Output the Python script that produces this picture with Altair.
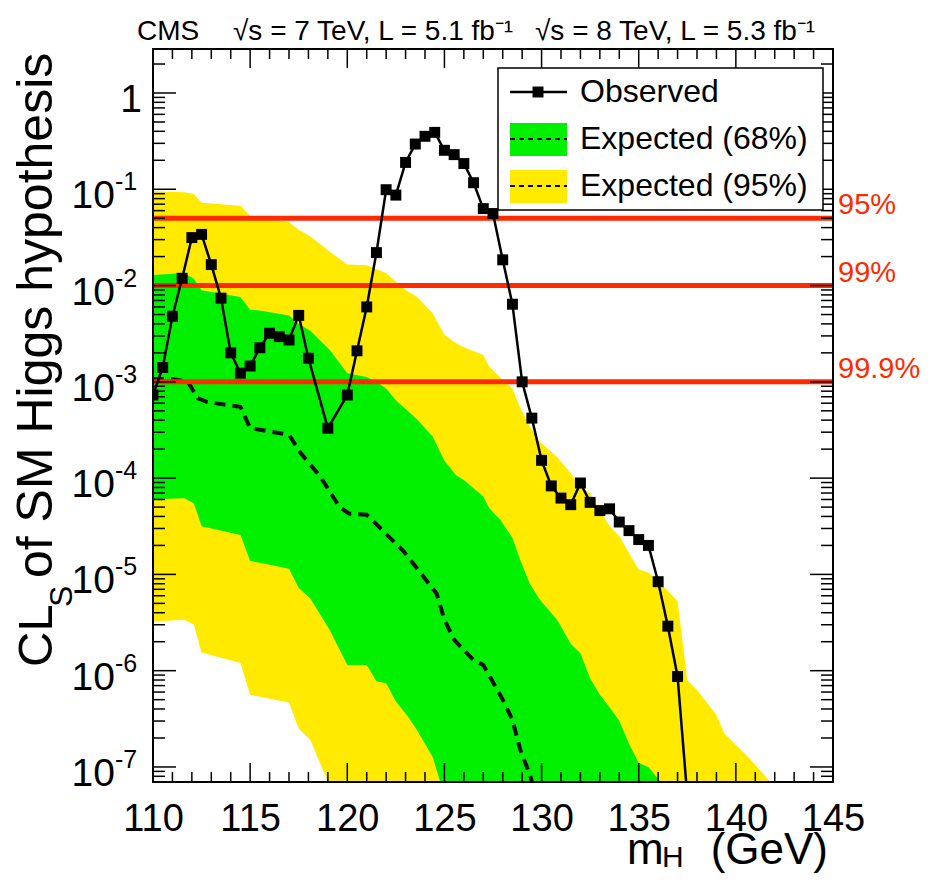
import altair as alt
import pandas as pd

FONT = "Liberation Sans"
YELLOW = "#ffea00"
GREEN = "#00f000"
RED = "#ff2a00"

# ---------------- data ----------------
obs_mh = [110.0, 110.5, 111.0, 111.5, 112.0, 112.5, 113.0, 113.5, 114.0, 114.5,
          115.0, 115.5, 116.0, 116.5, 117.0, 117.5, 118.0, 119.0, 120.0, 120.5,
          121.0, 121.5, 122.0, 122.5, 123.0, 123.5, 124.0, 124.5, 125.0, 125.5,
          126.0, 126.5, 127.0, 127.5, 128.0, 128.5, 129.0, 129.5, 130.0, 130.5,
          131.0, 131.5, 132.0, 132.5, 133.0, 133.5, 134.0, 134.5, 135.0, 135.5,
          136.0, 136.5, 137.0, 137.5]
obs_cls = [7.3e-4, 1.41e-3, 4.8e-3, 1.19e-2, 3.15e-2, 3.4e-2, 1.65e-2, 7.4e-3, 2.0e-3, 1.23e-3,
           1.46e-3, 2.26e-3, 3.2e-3, 2.95e-3, 2.72e-3, 4.9e-3, 1.76e-3, 3.3e-4, 7.3e-4, 2.1e-3,
           6.0e-3, 2.2e-2, 9.9e-2, 8.7e-2, 0.19, 0.295, 0.355, 0.39, 0.254, 0.229,
           0.185, 0.117, 6.3e-2, 5.6e-2, 1.85e-2, 6.4e-3, 1.0e-3, 4.2e-4, 1.53e-4, 8.3e-5,
           6.2e-5, 5.3e-5, 8.9e-5, 5.6e-5, 4.6e-5, 4.8e-5, 3.5e-5, 2.85e-5, 2.3e-5, 2.0e-5,
           8.4e-6, 2.9e-6, 8.7e-7, 5e-8]

# expected median (log10 CLs)
exp_mh = [110.0, 111.0, 111.8, 112.3, 112.8, 114.5, 115.0, 117.0, 117.6, 118.6,
          119.6, 120.1, 121.0, 121.7, 122.9, 124.6, 125.0, 125.5, 126.5, 127.0,
          128.0, 128.5, 128.9, 129.4, 130.0]
exp_median_log = [-2.97, -2.97, -3.00, -3.17, -3.21, -3.26, -3.48, -3.55, -3.74, -3.98,
                  -4.30, -4.37, -4.38, -4.52, -4.76, -5.20, -5.47, -5.68, -5.89, -5.94,
                  -6.30, -6.51, -6.82, -7.08, -7.50]

# bands (log10 CLs); -9 means far below the plotted range
band_mh = [110.0, 111.6, 112.1, 112.5, 114.5, 115.0, 115.5, 117.0, 117.5, 118.1,
           119.1, 120.0, 121.0, 121.5, 122.0, 122.5, 123.1, 123.6, 124.4, 125.0,
           125.6, 126.0, 127.0, 127.3, 127.9, 128.5, 128.9, 129.4, 129.9, 130.8,
           131.5, 132.0, 132.5, 133.0, 133.5, 134.0, 134.5, 135.0, 135.5, 136.3,
           137.0, 137.5, 138.0, 139.0, 139.4, 140.6, 141.8, 142.5]
yellow_hi_log = [-1.02, -1.03, -1.05, -1.14, -1.17, -1.28, -1.29, -1.34, -1.42, -1.49,
                 -1.65, -1.78, -1.79, -1.83, -1.87, -1.96, -2.06, -2.12, -2.29, -2.51,
                 -2.60, -2.64, -2.72, -2.84, -2.96, -3.07, -3.27, -3.47, -3.62, -3.78,
                 -3.95, -4.09, -4.16, -4.33, -4.50, -4.60, -4.78, -4.95, -4.98, -5.13,
                 -5.28, -6.10, -6.20, -6.46, -6.65, -6.89, -7.16, -7.45]
green_hi_log = [-1.89, -1.87, -1.93, -2.05, -2.12, -2.25, -2.26, -2.31, -2.40, -2.47,
                -2.67, -2.91, -2.95, -3.00, -3.07, -3.19, -3.30, -3.39, -3.57, -3.82,
                -3.97, -4.02, -4.19, -4.31, -4.44, -4.62, -4.85, -5.10, -5.26, -5.47,
                -5.72, -5.82, -6.08, -6.25, -6.38, -6.52, -6.76, -6.96, -7.00, -7.20,
                -7.60, -9, -9, -9, -9, -9, -9, -9]
green_lo_log = [-4.22, -4.21, -4.26, -4.50, -4.59, -4.86, -4.88, -4.94, -5.14, -5.25,
                -5.58, -5.94, -5.94, -6.11, -6.13, -6.32, -6.47, -6.62, -6.90, -7.30,
                -7.60] + [-9] * 27
yellow_lo_log = [-5.49, -5.47, -5.52, -5.81, -5.92, -6.25, -6.27, -6.33, -6.60, -6.72,
                 -7.20, -7.60] + [-9] * 36

cl_levels = [0.05, 0.01, 0.001]
cl_labels = ["95%", "99%", "99.9%"]

x_major = [110, 115, 120, 125, 130, 135, 140, 145]
y_exponents = [-7, -6, -5, -4, -3, -2, -1]

# ---------------- layout ----------------
W, H = 680, 733
YMIN, YMAX = 6.98e-8, 2.864

xscale = alt.Scale(domain=[110, 145], nice=False, zero=False)
yscale = alt.Scale(type="log", domain=[YMIN, YMAX], nice=False)
xaxis = alt.Axis(values=x_major, title=None, ticks=False, domain=False, grid=False,
                 labelFontSize=38, labelFont=FONT, labelColor="black", labelPadding=18,
                 labelFlush=False, labelOverlap=False)


def X(f):
    return alt.X(f, type="quantitative", scale=xscale, axis=xaxis)


def Y(f):
    return alt.Y(f, type="quantitative", scale=yscale, axis=None)


def one(text=""):
    return pd.DataFrame({"t": [text]})


df_band = pd.DataFrame({
    "mh": band_mh,
    "yhi": [10 ** v for v in yellow_hi_log],
    "ghi": [10 ** v for v in green_hi_log],
    "glo": [10 ** v for v in green_lo_log],
    "ylo": [10 ** v for v in yellow_lo_log],
})
df_exp = pd.DataFrame({"mh": exp_mh, "cls": [10 ** v for v in exp_median_log]})
df_obs = pd.DataFrame({"mh": obs_mh, "cls": obs_cls})
df_cl = pd.DataFrame({"cl": cl_levels, "label": cl_labels})

# tick positions
x_minor = [v for v in range(110, 146) if v not in x_major]
y_major_v = [10.0 ** k for k in range(-7, 1)]
y_minor_v = [m * 10.0 ** k for k in range(-8, 1) for m in range(2, 10)
             if YMIN <= m * 10.0 ** k <= YMAX]

layers = []
layers.append(alt.Chart(df_band).mark_area(color=YELLOW, clip=True)
              .encode(x=X("mh"), y=Y("yhi"), y2="ylo"))
layers.append(alt.Chart(df_band).mark_area(color=GREEN, clip=True)
              .encode(x=X("mh"), y=Y("ghi"), y2="glo"))
layers.append(alt.Chart(df_exp).mark_line(color="#111111", strokeWidth=4, strokeDash=[11, 7], clip=True)
              .encode(x=X("mh"), y=Y("cls")))
layers.append(alt.Chart(df_cl).mark_rule(color=RED, strokeWidth=5)
              .encode(y=Y("cl")))
layers.append(alt.Chart(df_cl).mark_text(color=RED, fontSize=29, font=FONT, align="left",
                                         baseline="alphabetic", dy=-4)
              .encode(y=Y("cl"), x=alt.value(W + 5), text="label"))
layers.append(alt.Chart(df_obs).mark_line(color="black", strokeWidth=2.5, clip=True)
              .encode(x=X("mh"), y=Y("cls")))
layers.append(alt.Chart(df_obs).mark_point(shape="square", filled=True, size=120, color="black",
                                           opacity=1, clip=True)
              .encode(x=X("mh"), y=Y("cls")))

# ticks (inward, all four sides)
df_xM = pd.DataFrame({"v": x_major})
df_xm = pd.DataFrame({"v": x_minor})
df_yM = pd.DataFrame({"v": y_major_v})
df_ym = pd.DataFrame({"v": y_minor_v})
tk = dict(color="black", strokeWidth=1.5)
for df, ln in [(df_xM, 19), (df_xm, 10)]:
    layers.append(alt.Chart(df).mark_rule(**tk).encode(x=X("v"), y=alt.value(H), y2=alt.value(H - ln)))
    layers.append(alt.Chart(df).mark_rule(**tk).encode(x=X("v"), y=alt.value(0), y2=alt.value(ln)))
for df, ln in [(df_yM, 23), (df_ym, 12)]:
    layers.append(alt.Chart(df).mark_rule(**tk).encode(y=Y("v"), x=alt.value(0), x2=alt.value(ln)))
    layers.append(alt.Chart(df).mark_rule(**tk).encode(y=Y("v"), x=alt.value(W), x2=alt.value(W - ln)))

# frame
layers.append(alt.Chart(one()).mark_rect(filled=False, stroke="black", strokeWidth=2)
              .encode(x=alt.value(0), x2=alt.value(W), y=alt.value(0), y2=alt.value(H)))

# y tick labels 10^k
df_ylab = pd.DataFrame({"v": [10.0 ** k for k in y_exponents],
                        "base": ["10"] * len(y_exponents),
                        "ex": [str(k) for k in y_exponents]})
layers.append(alt.Chart(df_ylab).mark_text(fontSize=39, font=FONT, align="right", baseline="alphabetic", dy=19)
              .encode(y=Y("v"), x=alt.value(-38), text="base"))
layers.append(alt.Chart(df_ylab).mark_text(fontSize=25, font=FONT, align="left", baseline="alphabetic", dy=1)
              .encode(y=Y("v"), x=alt.value(-38), text="ex"))
layers.append(alt.Chart(pd.DataFrame({"v": [1.0], "t": ["1"]}))
              .mark_text(fontSize=39, font=FONT, align="right", baseline="alphabetic", dy=19)
              .encode(y=Y("v"), x=alt.value(-11), text="t"))

# y-axis title: CL_S of SM Higgs hypothesis
yt = dict(font=FONT, angle=270, align="left", baseline="alphabetic", color="black")
layers.append(alt.Chart(one("CL")).mark_text(fontSize=49, **yt)
              .encode(text="t", x=alt.value(-101), y=alt.value(618)))
layers.append(alt.Chart(one("S")).mark_text(fontSize=32, **yt)
              .encode(text="t", x=alt.value(-81), y=alt.value(558)))
layers.append(alt.Chart(one("of SM Higgs hypothesis")).mark_text(fontSize=50, **yt)
              .encode(text="t", x=alt.value(-101), y=alt.value(529)))

# x-axis title: m_H (GeV)
xt = dict(font=FONT, baseline="alphabetic", color="black")
layers.append(alt.Chart(one("m")).mark_text(fontSize=44, align="left", **xt)
              .encode(text="t", x=alt.value(474), y=alt.value(815)))
layers.append(alt.Chart(one("H")).mark_text(fontSize=30, align="left", **xt)
              .encode(text="t", x=alt.value(509), y=alt.value(818)))
layers.append(alt.Chart(one("(GeV)")).mark_text(fontSize=44, align="right", **xt)
              .encode(text="t", x=alt.value(675), y=alt.value(815)))

# top label
tt = dict(font=FONT, fontSize=28, align="left", baseline="alphabetic", color="black")
layers.append(alt.Chart(one("CMS")).mark_text(**tt).encode(text="t", x=alt.value(-16), y=alt.value(-9)))
layers.append(alt.Chart(one("√s = 7 TeV, L = 5.1 fb⁻¹")).mark_text(**tt)
              .encode(text="t", x=alt.value(80), y=alt.value(-9)))
layers.append(alt.Chart(one("√s = 8 TeV, L = 5.3 fb⁻¹")).mark_text(**tt)
              .encode(text="t", x=alt.value(382), y=alt.value(-9)))

# legend
layers.append(alt.Chart(one()).mark_rect(fill="white", stroke="black", strokeWidth=1.5)
              .encode(x=alt.value(345), x2=alt.value(670), y=alt.value(19), y2=alt.value(161)))
layers.append(alt.Chart(one()).mark_rule(color="black", strokeWidth=2.5)
              .encode(x=alt.value(357), x2=alt.value(414), y=alt.value(43)))
layers.append(alt.Chart(one()).mark_point(shape="square", filled=True, size=120, color="black", opacity=1)
              .encode(x=alt.value(385), y=alt.value(43)))
layers.append(alt.Chart(one()).mark_rect(color=GREEN)
              .encode(x=alt.value(357), x2=alt.value(414), y=alt.value(74), y2=alt.value(107)))
layers.append(alt.Chart(one()).mark_rect(color=YELLOW)
              .encode(x=alt.value(357), x2=alt.value(414), y=alt.value(121), y2=alt.value(154)))
for yy in (90, 137):
    layers.append(alt.Chart(one()).mark_rule(color="black", strokeWidth=2, strokeDash=[5, 4])
                  .encode(x=alt.value(357), x2=alt.value(414), y=alt.value(yy)))
lt = dict(font=FONT, fontSize=32, align="left", baseline="middle", color="black")
for txt, yy in [("Observed", 43), ("Expected (68%)", 90), ("Expected (95%)", 137)]:
    layers.append(alt.Chart(one(txt)).mark_text(**lt).encode(text="t", x=alt.value(427), y=alt.value(yy)))

chart = alt.layer(*layers).properties(
    width=W, height=H,
    autosize=alt.AutoSizeParams(type="none"),
    padding={"left": 145, "top": 41, "right": 89, "bottom": 92},
).configure_view(stroke=None)

chart.save("out.html", embed_options={"renderer": "svg", "actions": False})
